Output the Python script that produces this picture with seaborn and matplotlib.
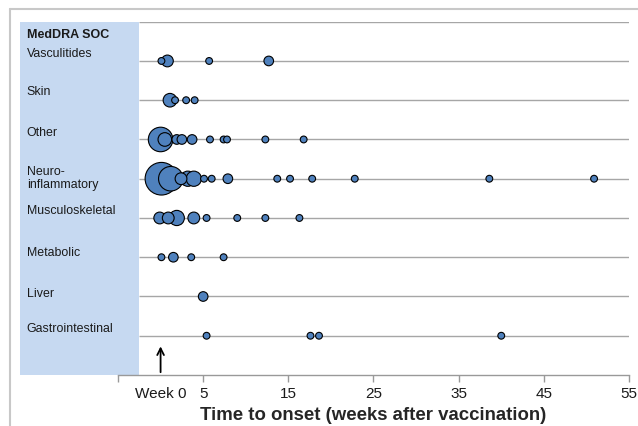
import pandas as pd
import matplotlib.pyplot as plt
import seaborn as sns
from matplotlib.patches import Rectangle
from matplotlib.lines import Line2D

# System organ classes, top to bottom
categories = ["Vasculitides", "Skin", "Other", "Neuro-\ninflammatory",
              "Musculoskeletal", "Metabolic", "Liver", "Gastrointestinal"]

# Onset week and number of cases per bubble
vasc_weeks = [0.1, 0.8, 5.7, 12.7]
vasc_n = [1, 3, 1, 2]
skin_weeks = [1.1, 1.7, 3.0, 4.0]
skin_n = [4, 1, 1, 1]
other_weeks = [0.0, 0.5, 1.9, 2.5, 3.7, 5.8, 7.4, 7.8, 12.3, 16.8]
other_n = [13, 4, 2, 2, 2, 1, 1, 1, 1, 1]
neuro_weeks = [0.1, 1.2, 2.4, 3.2, 3.9, 5.1, 6.0, 7.9, 13.7, 15.2, 17.8, 22.8, 38.6, 50.9]
neuro_n = [23, 13, 3, 5, 5, 1, 1, 2, 1, 1, 1, 1, 1, 1]
musc_weeks = [-0.1, 0.9, 1.9, 3.9, 5.4, 9.0, 12.3, 16.3]
musc_n = [3, 3, 5, 3, 1, 1, 1, 1]
metab_weeks = [0.1, 1.5, 3.6, 7.4]
metab_n = [1, 2, 1, 1]
liver_weeks = [5.0]
liver_n = [2]
gastro_weeks = [5.4, 17.6, 18.6, 40.0]
gastro_n = [1, 1, 1, 1]

tick_values = [-5, 0, 5, 15, 25, 35, 45, 55]
tick_labels = ["", "Week 0", "5", "15", "25", "35", "45", "55"]


def build_frame():
    weeks = [vasc_weeks, skin_weeks, other_weeks, neuro_weeks,
             musc_weeks, metab_weeks, liver_weeks, gastro_weeks]
    counts = [vasc_n, skin_n, other_n, neuro_n, musc_n, metab_n, liver_n, gastro_n]
    rows = []
    for i, (w, n) in enumerate(zip(weeks, counts)):
        for wk, c in zip(w, n):
            rows.append({"week": wk, "row": i, "n": c})
    df = pd.DataFrame(rows)
    # bigger bubbles first so small ones sit on top
    return df.sort_values("n", ascending=False, kind="stable")


def main():
    sns.set_theme(style="white")
    plt.rcParams["font.family"] = ["Liberation Sans", "DejaVu Sans"]

    fig = plt.figure(figsize=(6.38, 4.27), dpi=100)
    ax = fig.add_axes([118 / 638, 51 / 427, 511 / 638, 353.3 / 427])
    ax.set_xlim(-5, 55)
    ax.set_ylim(8, -1)

    # light blue label panel
    ax.add_patch(Rectangle((-16.53, -1), 14.0, 9, facecolor="#c6d9f1",
                           edgecolor="none", clip_on=False, zorder=0))
    ax.hlines(range(-1, 8), -2.53, 55, color="#a6a6a6", lw=1, zorder=1)

    df = build_frame()
    sns.scatterplot(data=df, x="week", y="row", size="n", sizes=(24, 24 * 23),
                    size_norm=(1, 23), color="#4f81bd", edgecolor="black",
                    linewidth=0.8, legend=False, ax=ax, zorder=3)

    # row labels
    label_dy = [0.2, 0.23, 0.2, 0.03, 0.2, 0.13, 0.08, 0.2]
    for i, cat in enumerate(categories):
        ax.text(-15.7, i - label_dy[i], cat, ha="left", va="center",
                fontsize=8.9, linespacing=1.05, color="#1a1a1a")
    ax.text(-15.7, -0.69, "MedDRA SOC", ha="left", va="center",
            fontsize=9, fontweight="bold", color="#1a1a1a")

    # vaccination arrow
    ax.annotate("", xy=(0, 7.2), xytext=(0, 8),
                arrowprops=dict(arrowstyle="->", color="black", lw=1.3),
                annotation_clip=False)

    ax.set_xticks(tick_values)
    ax.set_xticklabels(tick_labels)
    ax.tick_params(axis="x", direction="out", length=5, width=1,
                   color="#999999", labelsize=11, pad=3, bottom=True,
                   labelcolor="#1a1a1a")
    ax.get_xticklines()[2].set_visible(False)
    ax.set_yticks([])
    ax.set_xlabel("Time to onset (weeks after vaccination)",
                  fontsize=13.4, fontweight="bold", labelpad=4)
    ax.set_ylabel("")

    for side in ["left", "top", "right"]:
        ax.spines[side].set_visible(False)
    ax.spines["bottom"].set_color("#999999")
    ax.spines["bottom"].set_linewidth(1)

    # outer frame
    fig.add_artist(Line2D([10 / 638, 10 / 638], [0, 1 - 10 / 427],
                          transform=fig.transFigure, color="#c8c8c8", lw=1.5))
    fig.add_artist(Line2D([10 / 638, 1], [1 - 10 / 427, 1 - 10 / 427],
                          transform=fig.transFigure, color="#c8c8c8", lw=1.5))

    fig.savefig("out.png", dpi=100)


if __name__ == "__main__":
    main()
